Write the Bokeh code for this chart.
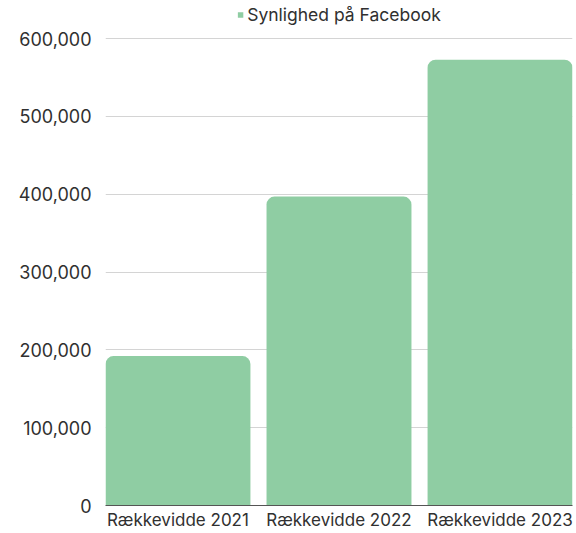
from bokeh.plotting import figure
from bokeh.models import FactorRange, Range1d, NumeralTickFormatter, FixedTicker, ColumnDataSource, Legend, LegendItem
from bokeh.embed import file_html
from bokeh.resources import INLINE

categories = ["Rækkevidde 2021", "Rækkevidde 2022", "Rækkevidde 2023"]
values = [192000, 397000, 573000]
series_name = "Synlighed på Facebook"
y_ticks = [0, 100000, 200000, 300000, 400000, 500000, 600000]

FONT = "Inter"
TXT = "#303030"

src = ColumnDataSource(dict(cat=categories, val=values))

# headroom above the top tick leaves room for the legend inside the frame
y_top = 649000

p = figure(
    width=576, height=533,
    x_range=FactorRange(factors=categories, range_padding=-0.05, range_padding_units="absolute"),
    y_range=Range1d(0, y_top),
    output_backend="svg", toolbar_location=None,
    min_border_left=105, min_border_right=4, min_border_bottom=28, min_border_top=0,
)
p.outline_line_color = None
p.background_fill_color = None
p.border_fill_color = None

r = p.vbar(x="cat", top="val", width=0.9, source=src, fill_color="#8fcda3",
           line_color=None, border_radius=(8, 8, 0, 0))

p.xgrid.grid_line_color = None
p.ygrid.grid_line_color = "#d4d4d4"
p.ygrid.grid_line_width = 1

p.yaxis.ticker = FixedTicker(ticks=y_ticks)
p.yaxis.formatter = NumeralTickFormatter(format="0,0")
p.yaxis.axis_line_color = None
p.yaxis.major_tick_line_color = None
p.yaxis.minor_tick_line_color = None
p.yaxis.major_tick_out = 0
p.yaxis.minor_tick_out = 0
p.yaxis.major_label_standoff = 14
p.yaxis.major_label_text_font = FONT
p.yaxis.major_label_text_font_size = "18px"
p.yaxis.major_label_text_color = TXT

p.xaxis.axis_line_color = "#555555"
p.xaxis.major_tick_line_color = None
p.xaxis.minor_tick_line_color = None
p.xaxis.major_tick_out = 0
p.xaxis.minor_tick_out = 0
p.xaxis.major_label_standoff = 4
p.xaxis.major_label_text_font = FONT
p.xaxis.major_label_text_font_size = "17px"
p.xaxis.major_label_text_color = TXT

leg = Legend(items=[LegendItem(label=series_name, renderers=[r])],
             location="top", orientation="horizontal")
leg.border_line_color = None
leg.background_fill_alpha = 0
leg.glyph_width = 7
leg.glyph_height = 7
leg.label_text_font = FONT
leg.label_text_font_size = "17.5px"
leg.label_text_color = TXT
leg.label_standoff = 4
leg.padding = 2
leg.margin = 4
p.add_layout(leg, "center")

open("out.html", "w").write(file_html(p, INLINE))
